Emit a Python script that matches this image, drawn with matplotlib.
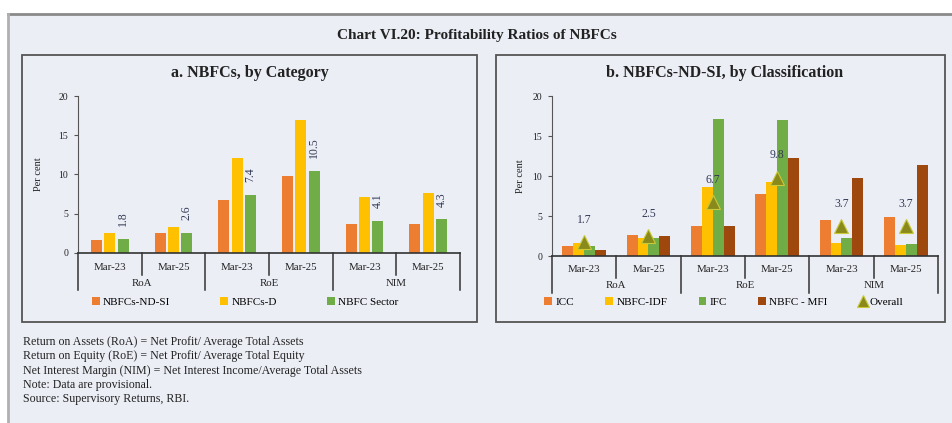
import matplotlib
matplotlib.use("Agg")
import matplotlib.pyplot as plt
from matplotlib.patches import Rectangle
from matplotlib.lines import Line2D
import matplotlib.transforms as mtransforms

plt.rcParams['font.family'] = ['Liberation Serif', 'DejaVu Serif']

# ---------------- data ----------------
periods = ["Mar-23", "Mar-25", "Mar-23", "Mar-25", "Mar-23", "Mar-25"]
ratios = ["RoA", "RoE", "NIM"]

a_series = ["NBFCs-ND-SI", "NBFCs-D", "NBFC Sector"]
a_nd_si = [1.7, 2.5, 6.7, 9.8, 3.7, 3.7]
a_d = [2.5, 3.3, 12.1, 16.9, 7.1, 7.6]
a_sector = [1.8, 2.6, 7.4, 10.5, 4.1, 4.3]
a_labels = ["1.8", "2.6", "7.4", "10.5", "4.1", "4.3"]

b_series = ["ICC", "NBFC-IDF", "IFC", "NBFC - MFI"]
b_icc = [1.2, 2.6, 3.7, 7.8, 4.5, 4.9]
b_idf = [1.6, 2.3, 8.6, 9.2, 1.6, 1.4]
b_ifc = [1.3, 2.2, 17.1, 17.0, 2.2, 1.5]
b_mfi = [0.7, 2.5, 3.8, 12.3, 9.8, 11.4]
b_overall = [1.7, 2.5, 6.7, 9.8, 3.7, 3.7]
b_overall_labels = ["1.7", "2.5", "6.7", "9.8", "3.7", "3.7"]

yticks = [0, 5, 10, 15, 20]

title = "Chart VI.20: Profitability Ratios of NBFCs"
title_a = "a. NBFCs, by Category"
title_b = "b. NBFCs-ND-SI, by Classification"
footnotes = [
    "Return on Assets (RoA) = Net Profit/ Average Total Assets",
    "Return on Equity (RoE) = Net Profit/ Average Total Equity",
    "Net Interest Margin (NIM) = Net Interest Income/Average Total Assets",
    "Note: Data are provisional.",
    "Source: Supervisory Returns, RBI.",
]

# ---------------- style ----------------
C_ORANGE = "#ED7D31"
C_YELLOW = "#FFC000"
C_GREEN = "#70AD47"
C_BROWN = "#9E480E"
C_TRI = "#8a8a1c"
BG = "#eceef6"
TXT = "#222222"

W, H = 953, 423
fig = plt.figure(figsize=(W / 100, H / 100), dpi=100)
fig.patch.set_facecolor("white")


def fx(x):
    return x / W


def fy(y):
    return 1 - y / H


# outer background & frame
fig.patches.append(Rectangle((fx(8), 0), 1 - fx(8), fy(14), transform=fig.transFigure,
                             facecolor=BG, edgecolor="none", zorder=-5))
fig.add_artist(Line2D([fx(8), 1], [fy(14), fy(14)], transform=fig.transFigure,
                      color="#8a8a8a", lw=2, zorder=-4))
fig.add_artist(Line2D([fx(8), fx(8)], [fy(14), 0], transform=fig.transFigure,
                      color="#b0b0b0", lw=2, zorder=-4))

# panel boxes
for x0, x1 in [(22, 477), (496, 945)]:
    fig.patches.append(Rectangle((fx(x0), fy(322)), fx(x1) - fx(x0), fy(55) - fy(322),
                                 transform=fig.transFigure, facecolor="none",
                                 edgecolor="#555555", lw=1.3, zorder=-3))

fig.text(fx(477), fy(35), title, ha="center", va="center", fontsize=11,
         fontweight="bold", color=TXT)
fig.text(fx(250), fy(73), title_a, ha="center", va="center", fontsize=11.5,
         fontweight="bold", color=TXT)
fig.text(fx(725), fy(73), title_b, ha="center", va="center", fontsize=11.5,
         fontweight="bold", color=TXT)

for i, line in enumerate(footnotes):
    fig.text(fx(23), fy(342 + i * 14.3), line, ha="left", va="center",
             fontsize=8.6, color=TXT)

x = list(range(len(periods)))


def setup_axes(ax, plot_h, labelpad):
    ax.set_facecolor("none")
    ax.set_xlim(-0.5, 5.5)
    ax.set_ylim(0, 20)
    ax.set_yticks(yticks)
    ax.set_yticklabels([str(t) for t in yticks], fontsize=7, color=TXT)
    ax.set_xticks([])
    for s in ["top", "right"]:
        ax.spines[s].set_visible(False)
    ax.spines["left"].set_color("#555555")
    ax.spines["bottom"].set_color("#333333")
    ax.spines["bottom"].set_linewidth(1.2)
    ax.tick_params(axis="y", length=3, width=0.8, color="#555555", pad=4)
    ax.set_ylabel("Per cent", fontsize=7.5, color=TXT, labelpad=labelpad)
    trans = mtransforms.blended_transform_factory(ax.transData, ax.transAxes)
    short = -22 / plot_h
    long = -37 / plot_h
    for i, p in enumerate(periods):
        ax.text(i, -14 / plot_h, p, transform=trans, ha="center", va="center",
                fontsize=7.8, color=TXT)
    for j, r in enumerate(ratios):
        ax.text(2 * j + 0.5, -30 / plot_h, r, transform=trans, ha="center",
                va="center", fontsize=7.8, color=TXT)
    for b in [-0.5, 0.5, 1.5, 2.5, 3.5, 4.5, 5.5]:
        is_long = b in (-0.5, 1.5, 3.5, 5.5)
        ax.plot([b, b], [0, long if is_long else short], transform=trans,
                color="#333333", lw=1.1, clip_on=False)


# ---------------- panel a ----------------
ha_px = 157
axa = fig.add_axes([fx(78), fy(253), fx(460) - fx(78), fy(96) - fy(253)])
wa = 0.17
offs_a = [-0.21, 0, 0.21]
for vals, off, col, lab in zip([a_nd_si, a_d, a_sector], offs_a,
                               [C_ORANGE, C_YELLOW, C_GREEN], a_series):
    axa.bar([xi + off for xi in x], vals, width=wa, color=col, label=lab, zorder=2)
for xi, v, t in zip(x, a_sector, a_labels):
    axa.annotate(t, (xi + 0.21, v), xytext=(0, 9), textcoords="offset points",
                 rotation=90, ha="center", va="bottom", fontsize=8.5, color="#333a55")
setup_axes(axa, ha_px, 11)
axa.legend(loc="center", bbox_to_anchor=(fx(245), fy(302)),
           bbox_transform=fig.transFigure, ncol=3, frameon=False, fontsize=8,
           handlelength=0.7, handleheight=0.7, handletextpad=0.3, columnspacing=4.5)

# ---------------- panel b ----------------
hb_px = 160
axb = fig.add_axes([fx(552), fy(256), fx(938) - fx(552), fy(96) - fy(256)])
wb = 0.17
offs_b = [-0.255, -0.085, 0.085, 0.255]
for vals, off, col, lab in zip([b_icc, b_idf, b_ifc, b_mfi], offs_b,
                               [C_ORANGE, C_YELLOW, C_GREEN, C_BROWN], b_series):
    axb.bar([xi + off for xi in x], vals, width=wb, color=col, label=lab, zorder=2)
axb.plot(x, b_overall, linestyle="none", marker="^", markersize=10,
         markerfacecolor=C_TRI, markeredgecolor="#c9c93a", markeredgewidth=0.8,
         label="Overall", zorder=3)
for xi, v, t in zip(x, b_overall, b_overall_labels):
    axb.annotate(t, (xi, v), xytext=(0, 16), textcoords="offset points",
                 ha="center", va="center", fontsize=8.5, color="#333a55")
setup_axes(axb, hb_px, 5.5)
handles, labels = axb.get_legend_handles_labels()
order = [labels.index(n) for n in b_series + ["Overall"]]
axb.legend([handles[i] for i in order], [labels[i] for i in order],
           loc="center", bbox_to_anchor=(fx(724), fy(302)),
           bbox_transform=fig.transFigure, ncol=5, frameon=False, fontsize=8,
           handlelength=0.7, handleheight=0.7, handletextpad=0.3, columnspacing=2.8,
           markerscale=0.8)

fig.savefig("out.png", dpi=100, facecolor=fig.get_facecolor())
